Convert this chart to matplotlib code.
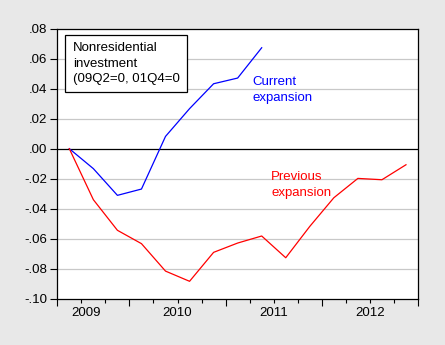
import matplotlib
matplotlib.use("Agg")
import matplotlib.pyplot as plt
import numpy as np

# quarters since 2009Q2 (0 = 2009Q2)
current_q = [0, 1, 2, 3, 4, 5, 6, 7, 8]
current_vals = [0.0, -0.0133, -0.0311, -0.0269, 0.0082, 0.0267, 0.0433, 0.0471, 0.0673]
previous_q = [0, 1, 2, 3, 4, 5, 6, 7, 8, 9, 10, 11, 12, 13, 14]
previous_vals = [0.0, -0.0340, -0.0544, -0.0633, -0.0816, -0.0884, -0.0691, -0.0629,
                 -0.0582, -0.0727, -0.0518, -0.0327, -0.0198, -0.0207, -0.0107]
year_labels = ["2009", "2010", "2011", "2012"]
year_label_pos = [0.68, 4.5, 8.5, 12.5]
y_ticks = [-0.10, -0.08, -0.06, -0.04, -0.02, 0.0, 0.02, 0.04, 0.06, 0.08]

plt.rcParams['font.family'] = ['Liberation Sans', 'DejaVu Sans']

fig = plt.figure(figsize=(4.45, 3.45), dpi=100, facecolor='#e8e8e8')
ax = fig.add_axes([57.3/445, 1-298.7/345, (418-57.3)/445, (298.7-28.7)/345])
ax.set_facecolor('white')

ax.set_xlim(-0.5, 14.5)
ax.set_ylim(-0.10, 0.08)

for y in y_ticks:
    if abs(y) > 1e-9 and y > -0.099 and y < 0.079:
        ax.axhline(y, color='#c8c8c8', lw=0.9, zorder=1)
ax.axhline(0, color='black', lw=0.9, zorder=2)

ax.plot(current_q, current_vals, color='#0000ff', lw=0.9, zorder=3)
ax.plot(previous_q, previous_vals, color='#ff0000', lw=0.9, zorder=3)

def fmt(v):
    s = "%.2f" % v
    if s.startswith("-0"):
        s = "-" + s[2:]
    elif s.startswith("0"):
        s = s[1:]
    return s

ax.set_yticks(y_ticks)
ax.set_yticklabels([fmt(v) for v in y_ticks], fontsize=9.5)
ax.tick_params(axis='y', direction='out', length=5, width=0.8, pad=2)

major = [-0.5, 2.5, 6.5, 10.5, 14.5]
minor = [k - 0.5 for k in range(16) if (k - 0.5) not in major]
ax.set_xticks(major)
ax.set_xticklabels([''] * len(major))
ax.set_xticks(minor, minor=True)
ax.tick_params(axis='x', which='major', direction='out', length=5, width=0.8)
ax.tick_params(axis='x', which='minor', direction='out', length=3, width=0.8)
for lab, p in zip(year_labels, year_label_pos):
    ax.text(p, -0.1055, lab, ha='center', va='top', fontsize=9.5,
            transform=ax.transData, clip_on=False)

for s in ax.spines.values():
    s.set_linewidth(0.9)
    s.set_color('black')

ax.text(72.7/445, 1-42/345, "Nonresidential\ninvestment\n(09Q2=0, 01Q4=0",
        transform=fig.transFigure, fontsize=9.5, va='top', ha='left',
        linespacing=1.4, zorder=5,
        bbox=dict(boxstyle='square,pad=0.55', fc='white', ec='black', lw=0.9))

ax.text(252.3/445, 1-76/345, "Current\nexpansion", transform=fig.transFigure,
        color='#0000ff', fontsize=9.5, va='top', ha='left', linespacing=1.4)
ax.text(271.3/445, 1-171.5/345, "Previous\nexpansion", transform=fig.transFigure,
        color='#ff0000', fontsize=9.5, va='top', ha='left', linespacing=1.4)

fig.savefig("out.png", dpi=100, facecolor=fig.get_facecolor())
